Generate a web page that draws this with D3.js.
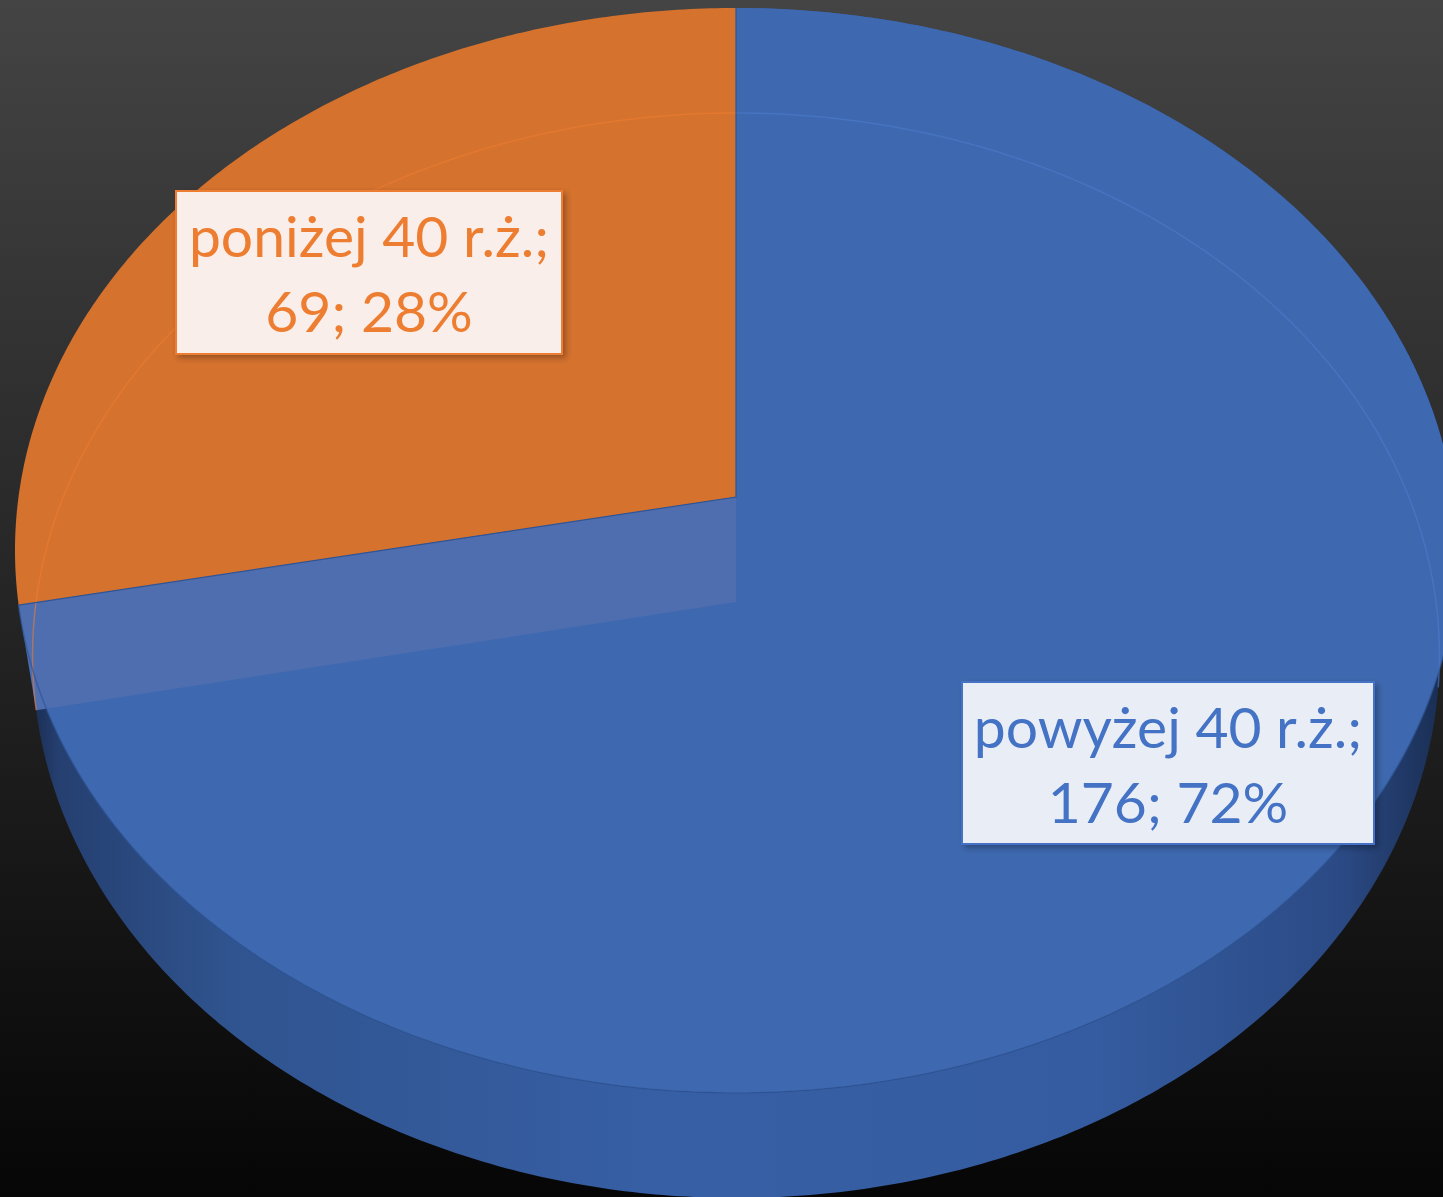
<!DOCTYPE html>
<html>
<head>
<meta charset="utf-8">
<script src="https://cdn.jsdelivr.net/npm/d3@7"></script>
<style>
  html, body { margin: 0; padding: 0; background: #000; }
  svg { display: block; }
</style>
</head>
<body>
<svg id="chart"></svg>
<script>
// data
const categories = ["powyżej 40 r.ż.", "poniżej 40 r.ż."];
const values = [176, 69];

const width = 1443, height = 1197;
const sliceColors = ["#3E69B0", "#D5722E"];
const textColors = ["#4472C4", "#ED7D31"];
const boxFills = ["#E9EEF6", "#F9EEE9"];
// label boxes [x, y, w, h]
const boxes = [[962, 682, 412, 162], [176, 191, 386, 163]];

// perspective ellipse for top and bottom face of the pie
const cx = 736, k = 0.0986;
const topFace = { cy: 497, rx: 717.5, ry: 537.2 };
const botFace = { cy: 602, rx: 700, ry: 537.2 };

function pt(face, t, r = 1) {
    const u = r * Math.sin(t), v = r * Math.cos(t), s = 1 + k * v;
    return [cx + face.rx * u / s, face.cy - face.ry * v / s];
}
function arcPts(face, a0, a1) {
    const n = Math.max(2, Math.ceil(Math.abs(a1 - a0) / 0.01));
    return d3.range(n + 1).map(i => pt(face, a0 + (a1 - a0) * i / n));
}

const svg = d3.select('#chart')
    .attr('width', width)
    .attr('height', height);

const defs = svg.append('defs');
const bg = defs.append('linearGradient').attr('id', 'bg')
    .attr('x1', 0).attr('y1', 0).attr('x2', 0).attr('y2', 1);
bg.append('stop').attr('offset', 0).attr('stop-color', '#444444');
bg.append('stop').attr('offset', 1).attr('stop-color', '#060606');

const side = defs.append('linearGradient').attr('id', 'side')
    .attr('gradientUnits', 'userSpaceOnUse')
    .attr('x1', 15).attr('y1', 0).attr('x2', 1457).attr('y2', 0);
[[0, '#14223f'], [0.03, '#253f70'], [0.15, '#30548f'], [0.45, '#375fa5'],
 [0.75, '#355ca0'], [0.92, '#2b4a85'], [1, '#172a4c']].forEach(s =>
    side.append('stop').attr('offset', s[0]).attr('stop-color', s[1]));

const shadow = defs.append('filter').attr('id', 'shadow')
    .attr('x', '-10%').attr('y', '-10%').attr('width', '130%').attr('height', '130%');
shadow.append('feDropShadow').attr('dx', 3).attr('dy', 3)
    .attr('stdDeviation', 3).attr('flood-color', '#000').attr('flood-opacity', 0.3);

svg.append('rect')
    .attr('width', width).attr('height', height)
    .attr('fill', 'url(#bg)');

const pie = d3.pie().sort(null).value(d => d);
const arcs = pie(values);
const line = d3.line();

// outer wall of the front slice
const front = arcs[0];
svg.append('path')
    .attr('d', line(arcPts(topFace, front.startAngle, front.endAngle)
        .concat(arcPts(botFace, front.endAngle, front.startAngle))) + 'Z')
    .attr('fill', 'url(#side)');

// top faces
svg.selectAll('path.slice')
    .data(arcs)
    .enter()
    .append('path')
    .attr('class', 'slice')
    .attr('d', d => line([pt(topFace, 0, 0)].concat(arcPts(topFace, d.startAngle, d.endAngle))) + 'Z')
    .attr('fill', (d, i) => sliceColors[i]);

// radial wall of the back slice, seen through the front one
const back = arcs[1];
svg.append('path')
    .attr('d', line([pt(topFace, 0, 0), pt(topFace, back.startAngle), pt(botFace, back.startAngle), pt(botFace, 0, 0)]) + 'Z')
    .attr('fill', '#4E6EB0');

// faint rim of the bottom face showing through
svg.append('path')
    .attr('d', line(arcPts(botFace, back.startAngle, back.endAngle)))
    .attr('fill', 'none').attr('stroke', '#EE7D31').attr('stroke-opacity', 0.55).attr('stroke-width', 1.5);
svg.append('path')
    .attr('d', line(arcPts(botFace, 0, Math.PI * 0.55)))
    .attr('fill', 'none').attr('stroke', '#4D7BCB').attr('stroke-opacity', 0.6).attr('stroke-width', 1.5);

// front edge of the top face
svg.append('path')
    .attr('d', line(arcPts(topFace, Math.PI * 0.55, front.endAngle)))
    .attr('fill', 'none').attr('stroke', '#2F5597').attr('stroke-opacity', 0.7).attr('stroke-width', 1.5);

// slice borders
svg.append('path')
    .attr('d', line([pt(topFace, 0), pt(topFace, 0, 0), pt(topFace, back.startAngle)]))
    .attr('fill', 'none').attr('stroke', '#2F5597').attr('stroke-width', 1.2);

// data labels
const total = d3.sum(values);
const labels = svg.selectAll('g.label')
    .data(arcs)
    .enter()
    .append('g')
    .attr('class', 'label');

labels.append('rect')
    .attr('x', (d, i) => boxes[i][0])
    .attr('y', (d, i) => boxes[i][1])
    .attr('width', (d, i) => boxes[i][2])
    .attr('height', (d, i) => boxes[i][3])
    .attr('fill', (d, i) => boxFills[i])
    .attr('stroke', (d, i) => textColors[i])
    .attr('stroke-width', 2)
    .attr('filter', 'url(#shadow)');

const txt = labels.append('text')
    .attr('text-anchor', 'middle')
    .attr('font-family', 'Lato, "Open Sans", sans-serif')
    .attr('font-size', 57)
    .attr('fill', (d, i) => textColors[i]);
txt.append('tspan')
    .attr('x', (d, i) => boxes[i][0] + boxes[i][2] / 2)
    .attr('y', (d, i) => boxes[i][1] + 66)
    .text((d, i) => categories[i] + ';');
txt.append('tspan')
    .attr('x', (d, i) => boxes[i][0] + boxes[i][2] / 2)
    .attr('y', (d, i) => boxes[i][1] + 141)
    .text(d => d.data + '; ' + Math.round(d.data / total * 100) + '%');
</script>
</body>
</html>
